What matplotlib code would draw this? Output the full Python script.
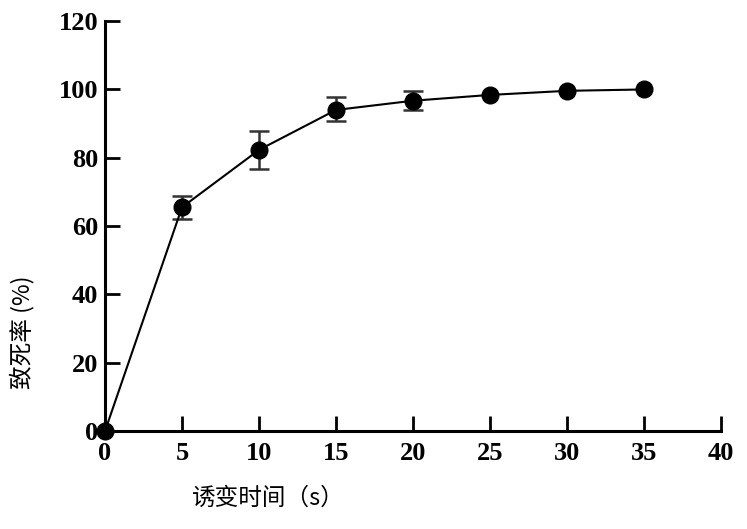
import numpy as np
import matplotlib
matplotlib.use('Agg')
import matplotlib.pyplot as plt

plt.rcParams['font.family'] = ['Liberation Serif', 'Noto Sans CJK SC', 'DejaVu Sans']

# 诱变时间 (s) 与致死率 (%)
time_s = [0, 5, 10, 15, 20, 25, 30, 35]
death_rate = [0, 65.5, 82.3, 94.0, 96.7, 98.4, 99.6, 100.0]
err_low = [0, 3.5, 5.6, 3.2, 2.7, 0, 0, 0]
err_high = [0, 3.3, 5.6, 3.7, 2.9, 0, 0, 0]

x_ticks = [0, 5, 10, 15, 20, 25, 30, 35, 40]
y_ticks = [0, 20, 40, 60, 80, 100, 120]

fig = plt.figure(figsize=(7.47, 5.29), dpi=100)
ax = fig.add_axes([0.1406, 0.1853, 0.8244, 0.7747])

# 误差棒只画有误差的点
t = np.array(time_s)
d = np.array(death_rate)
lo = np.array(err_low)
hi = np.array(err_high)
has_err = (lo + hi) > 0
ax.errorbar(t[has_err], d[has_err], yerr=[lo[has_err], hi[has_err]], fmt='none',
            ecolor='#333333', elinewidth=1.8, capsize=7, capthick=1.8, zorder=2)
ax.plot(time_s, death_rate, '-o', color='black', markersize=12, linewidth=1.5,
        clip_on=False, zorder=3)

ax.set_xlim(0, 40)
ax.set_ylim(0, 120)
ax.set_xticks(x_ticks)
ax.set_yticks(y_ticks)

for side in ['top', 'right']:
    ax.spines[side].set_visible(False)
for side in ['left', 'bottom']:
    ax.spines[side].set_linewidth(2.2)

ax.tick_params(direction='in', length=11, width=2, labelsize=19)
ax.tick_params(axis='x', pad=8)
ax.tick_params(axis='y', pad=5)
for lab in ax.get_xticklabels() + ax.get_yticklabels():
    lab.set_fontweight('bold')

ax.set_xlabel('诱变时间（s）', fontsize=17, family=['Noto Sans CJK SC', 'DejaVu Sans'])
ax.xaxis.set_label_coords(0.265, -0.135)
ax.set_ylabel('致死率 (%)', fontsize=17, family=['Noto Sans CJK SC', 'DejaVu Sans'])
ax.yaxis.set_label_coords(-0.135, 0.241)
ax.yaxis.label.set_verticalalignment('center')

plt.savefig('out.png', dpi=100)
